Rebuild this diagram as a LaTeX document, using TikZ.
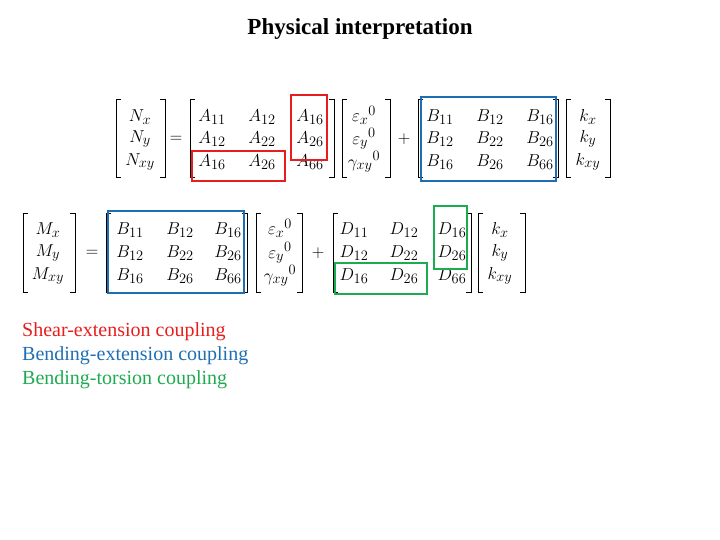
\documentclass[tikz,border=0pt]{standalone}
\usepackage{amsmath}
\usepackage{fontspec}
\setmainfont{Liberation Serif}
\usetikzlibrary{positioning}
\definecolor{shearred}{RGB}{230,30,30}
\definecolor{bendblue}{RGB}{30,110,180}
\definecolor{torsgreen}{RGB}{30,170,80}
\tikzset{
  entry/.style={font=\fontsize{19}{22}\selectfont, inner sep=0pt},
  brk/.style={line width=1pt},
  couplebox/.style={line width=2pt},
  legend/.style={font=\fontsize{20}{23}\selectfont, anchor=west, inner sep=0pt}
}
% bracket pair: left x, right x, top y, bottom y
\newcommand{\brpair}[4]{%
  \draw[brk] (#1+5,#3) -- (#1,#3) -- (#1,#4) -- (#1+5,#4);
  \draw[brk] (#2-5,#3) -- (#2,#3) -- (#2,#4) -- (#2-5,#4);}
\begin{document}
\begin{tikzpicture}[x=1pt,y=-1pt]
\useasboundingbox (0,0) rectangle (720,540);
\node[font=\fontsize{23}{26}\selectfont\bfseries] (title) at (360,29) {Physical interpretation};

%%%%%%%%%%%%%%%% first equation
\brpair{116}{165}{100}{178}
\node[entry] (nx) at (140,117) {$N_x$};
\node[entry] (ny) at (140,139) {$N_y$};
\node[entry] (nxy) at (140,162) {$N_{xy}$};
\node[entry] (eq1) at (176,139) {$=$};
\brpair{190}{334}{100}{178}
\node[entry] (a11) at (212,117) {$A_{11}$}; \node[entry] (a12) at (262,117) {$A_{12}$}; \node[entry] (a13) at (310,117) {$A_{16}$};
\node[entry] (a21) at (212,139) {$A_{12}$}; \node[entry] (a22) at (262,139) {$A_{22}$}; \node[entry] (a23) at (310,139) {$A_{26}$};
\node[entry] (a31) at (212,162) {$A_{16}$}; \node[entry] (a32) at (262,162) {$A_{26}$}; \node[entry] (a33) at (310,162) {$A_{66}$};
\brpair{342}{390}{100}{178}
\node[entry] (ex1) at (364,115) {$\varepsilon_x{}^0$};
\node[entry] (ey1) at (364,139) {$\varepsilon_y{}^0$};
\node[entry] (gxy1) at (364,162) {$\gamma_{xy}{}^0$};
\node[entry] (plus1) at (404,139) {$+$};
\brpair{418}{558}{100}{178}
\node[entry] (b111) at (440,117) {$B_{11}$}; \node[entry] (b112) at (490,117) {$B_{12}$}; \node[entry] (b113) at (540,117) {$B_{16}$};
\node[entry] (b121) at (440,139) {$B_{12}$}; \node[entry] (b122) at (490,139) {$B_{22}$}; \node[entry] (b123) at (540,139) {$B_{26}$};
\node[entry] (b131) at (440,162) {$B_{16}$}; \node[entry] (b132) at (490,162) {$B_{26}$}; \node[entry] (b133) at (540,162) {$B_{66}$};
\brpair{566}{610}{100}{178}
\node[entry] (kx1) at (588,117) {$k_x$};
\node[entry] (ky1) at (588,139) {$k_y$};
\node[entry] (kxy1) at (588,162) {$k_{xy}$};
\draw[couplebox, shearred] (291,95) rectangle (327,160);
\draw[couplebox, shearred] (192,151) rectangle (285,181);
\draw[couplebox, bendblue] (421,97) rectangle (556,181);

%%%%%%%%%%%%%%%% second equation
\brpair{23}{75}{214}{292}
\node[entry] (mx) at (48,230) {$M_x$};
\node[entry] (my) at (48,253) {$M_y$};
\node[entry] (mxy) at (48,276) {$M_{xy}$};
\node[entry] (eq2) at (92,253) {$=$};
\brpair{106}{247}{214}{292}
\node[entry] (b211) at (130,230) {$B_{11}$}; \node[entry] (b212) at (180,230) {$B_{12}$}; \node[entry] (b213) at (228,230) {$B_{16}$};
\node[entry] (b221) at (130,253) {$B_{12}$}; \node[entry] (b222) at (180,253) {$B_{22}$}; \node[entry] (b223) at (228,253) {$B_{26}$};
\node[entry] (b231) at (130,276) {$B_{16}$}; \node[entry] (b232) at (180,276) {$B_{26}$}; \node[entry] (b233) at (228,276) {$B_{66}$};
\brpair{256}{302}{214}{292}
\node[entry] (ex2) at (280,228) {$\varepsilon_x{}^0$};
\node[entry] (ey2) at (280,253) {$\varepsilon_y{}^0$};
\node[entry] (gxy2) at (280,276) {$\gamma_{xy}{}^0$};
\node[entry] (plus2) at (318,253) {$+$};
\brpair{333}{471}{214}{292}
\node[entry] (d11) at (354,230) {$D_{11}$}; \node[entry] (d12) at (404,230) {$D_{12}$}; \node[entry] (d13) at (452,230) {$D_{16}$};
\node[entry] (d21) at (354,253) {$D_{12}$}; \node[entry] (d22) at (404,253) {$D_{22}$}; \node[entry] (d23) at (452,253) {$D_{26}$};
\node[entry] (d31) at (354,276) {$D_{16}$}; \node[entry] (d32) at (404,276) {$D_{26}$}; \node[entry] (d33) at (452,276) {$D_{66}$};
\brpair{478}{525}{214}{292}
\node[entry] (kx2) at (500,230) {$k_x$};
\node[entry] (ky2) at (500,253) {$k_y$};
\node[entry] (kxy2) at (500,276) {$k_{xy}$};
\draw[couplebox, bendblue] (108,211) rectangle (244,293);
\draw[couplebox, torsgreen] (434,206) rectangle (467,269);
\draw[couplebox, torsgreen] (335,263) rectangle (427,294);

%%%%%%%%%%%%%%%% legend
\node[legend, text=shearred] (leg1) at (22,332) {Shear-extension coupling};
\node[legend, text=bendblue] (leg2) at (22,356) {Bending-extension coupling};
\node[legend, text=torsgreen] (leg3) at (22,380) {Bending-torsion coupling};
\end{tikzpicture}
\end{document}
